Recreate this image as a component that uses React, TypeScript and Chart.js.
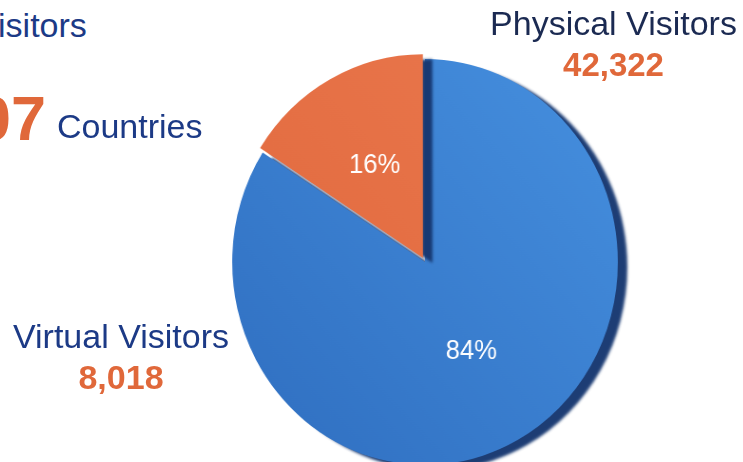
import React, { useEffect, useRef } from "react";
import { Chart, registerables } from "chart.js";

Chart.register(...registerables);

const categories = ["Physical Visitors", "Virtual Visitors"];
const visitorCounts = [42322, 8018];
const countLabels = ["42,322", "8,018"];
const sliceColorsLight = ["#4893e2", "#ec7a50"];
const sliceColorsDark = ["#2d6bbd", "#de6539"];
const sliceOffsets = [0, 18];
const headerWord = "Visitors";
const countryNumber = "07";
const countryWord = "Countries";

const FONT = "'Liberation Sans', Arial, Helvetica, sans-serif";
const NAVY = "#1c3a86";
const DARK_NAVY = "#1b2a52";
const ORANGE = "#e0683a";

const piePlugin = {
  id: "pie3dLook",
  beforeDatasetsDraw(chart: any) {
    const ctx = chart.ctx;
    ctx.save();
    ctx.shadowColor = "rgba(22,55,112,0.97)";
    ctx.shadowOffsetX = 10;
    ctx.shadowOffsetY = 5;
    ctx.shadowBlur = 3;
  },
  afterDatasetsDraw(chart: any) {
    const ctx = chart.ctx;
    ctx.restore();
    const meta = chart.getDatasetMeta(0);
    const data = chart.data.datasets[0].data as number[];
    const total = data.reduce((a, b) => a + b, 0);
    ctx.save();
    ctx.fillStyle = "#ffffff";
    ctx.font = `27px ${FONT}`;
    ctx.textAlign = "center";
    ctx.textBaseline = "middle";
    meta.data.forEach((arc: any, i: number) => {
      const p = arc.tooltipPosition();
      const pct = Math.round((data[i] / total) * 100) + "%";
      ctx.fillText(pct, p.x, p.y);
    });
    ctx.restore();
  },
};

function PieChart() {
  const ref = useRef<HTMLCanvasElement | null>(null);
  useEffect(() => {
    if (!ref.current) return;
    const chart = new Chart(ref.current, {
      type: "pie",
      data: {
        labels: categories,
        datasets: [
          {
            data: visitorCounts,
            backgroundColor: (c: any) => {
              const area = c.chart.chartArea;
              const i = c.dataIndex;
              if (!area || i === undefined) return sliceColorsLight[i ?? 0];
              const g = c.chart.ctx.createLinearGradient(area.left, area.bottom, area.right, area.top);
              g.addColorStop(0, sliceColorsDark[i]);
              g.addColorStop(1, sliceColorsLight[i]);
              return g;
            },
            borderWidth: 0,
            offset: sliceOffsets,
          },
        ],
      },
      options: {
        responsive: false,
        animation: false,
        radius: 203,
        rotation: 0,
        layout: { padding: 0 },
        plugins: {
          legend: { display: false },
          tooltip: { enabled: false },
        },
      },
      plugins: [piePlugin],
    });
    return () => chart.destroy();
  }, []);
  return (
    <div
      style={{
        position: "absolute",
        left: 185,
        top: 22,
        width: 480,
        height: 480,
        transform: "scaleX(0.95)",
        transformOrigin: "240px 240px",
      }}
    >
      <canvas ref={ref} width={480} height={480} style={{ display: "block", width: 480, height: 480 }} />
    </div>
  );
}

const textBase: React.CSSProperties = {
  position: "absolute",
  fontFamily: FONT,
  whiteSpace: "nowrap",
  lineHeight: 1,
};

export default function App() {
  return (
    <div
      style={{
        position: "absolute",
        left: 0,
        top: 0,
        width: 743,
        height: 462,
        overflow: "hidden",
        background: "#ffffff",
      }}
    >
      <PieChart />
      <div style={{ ...textBase, left: -24, top: 8, fontSize: 34, color: NAVY }}>{headerWord}</div>
      <div style={{ ...textBase, left: -24, top: 87, fontSize: 63, fontWeight: 700, color: ORANGE }}>
        {countryNumber}
      </div>
      <div style={{ ...textBase, left: 57, top: 109, fontSize: 34, color: NAVY }}>{countryWord}</div>

      <div style={{ ...textBase, left: 480, width: 267, textAlign: "center", top: 6, fontSize: 34, color: DARK_NAVY }}>
        {categories[0]}
      </div>
      <div style={{ ...textBase, left: 480, width: 267, textAlign: "center", top: 48, fontSize: 33, fontWeight: 700, color: ORANGE }}>
        {countLabels[0]}
      </div>

      <div style={{ ...textBase, left: 0, width: 242, textAlign: "center", top: 319, fontSize: 34, color: NAVY }}>
        {categories[1]}
      </div>
      <div style={{ ...textBase, left: 0, width: 242, textAlign: "center", top: 360, fontSize: 34, fontWeight: 700, color: ORANGE }}>
        {countLabels[1]}
      </div>
    </div>
  );
}
